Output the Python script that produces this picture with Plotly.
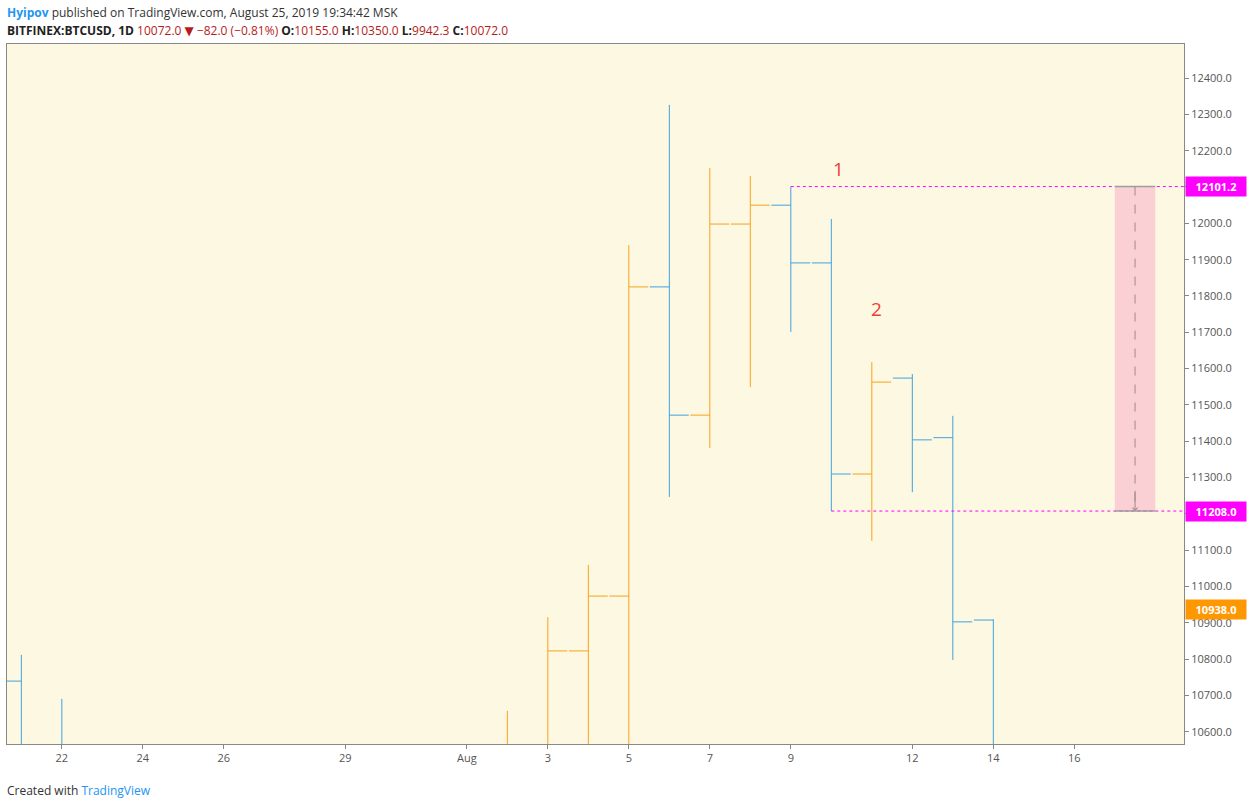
import plotly.graph_objects as go

dates = ["2019-07-21", "2019-07-22", "2019-08-02", "2019-08-03", "2019-08-04", "2019-08-05",
         "2019-08-06", "2019-08-07", "2019-08-08", "2019-08-09", "2019-08-10", "2019-08-11",
         "2019-08-12", "2019-08-13", "2019-08-14"]
opens = [10740, 10560, 10400, 10500, 10823, 10974, 11825, 11472, 11998, 12050, 11891, 11310, 11574, 11410, 10908]
highs = [10812, 10691, 10658, 10916, 11060, 11940, 12326, 12152, 12130, 12101.2, 12012, 11618, 11585, 11470, 10910]
lows = [10400, 10300, 10300, 10400, 10500, 10500, 11247, 11382, 11549, 11701, 11208, 11126, 11260, 10798, 10300]
closes = [10500, 10400, 10500, 10823, 10974, 11825, 11472, 11998, 12050, 11891, 11310, 11563, 11404, 10903, 10400]

tick_dates = ["2019-07-22", "2019-07-24", "2019-07-26", "2019-07-29", "2019-08-01", "2019-08-03",
              "2019-08-05", "2019-08-07", "2019-08-09", "2019-08-12", "2019-08-14", "2019-08-16"]
tick_text = ["22", "24", "26", "29", "Aug", "3", "5", "7", "9", "12", "14", "16"]

level_high = 12101.2
level_low = 11208.0
last_price = 10938.0

BLUE = "#3fa2e0"
ORANGE = "#f7a21b"
MAGENTA = "#ff00ff"

fig = go.Figure()
fig.add_trace(go.Ohlc(
    x=dates, open=opens, high=highs, low=lows, close=closes, tickwidth=0.48,
    increasing=dict(line=dict(color=ORANGE, width=1)),
    decreasing=dict(line=dict(color=BLUE, width=1)),
    hoverinfo="skip", showlegend=False,
))

# horizontal levels
fig.add_shape(type="line", x0="2019-08-09", x1="2019-08-18 18:00", y0=level_high, y1=level_high,
              line=dict(color=MAGENTA, width=1, dash="dot"))
fig.add_shape(type="line", x0="2019-08-10", x1="2019-08-18 18:00", y0=level_low, y1=level_low,
              line=dict(color=MAGENTA, width=1, dash="dot"))
# measurement box
fig.add_shape(type="rect", x0="2019-08-17", x1="2019-08-18", y0=level_low, y1=level_high,
              fillcolor="rgba(247,160,200,0.45)", line=dict(width=0), layer="below")
for y in (level_high, level_low):
    fig.add_shape(type="line", x0="2019-08-17", x1="2019-08-18", y0=y, y1=y,
                  line=dict(color="#9e9e9e", width=1.5))
fig.add_shape(type="line", x0="2019-08-17 12:00", x1="2019-08-17 12:00", y0=level_high, y1=level_low + 20,
              line=dict(color="#a08a8a", width=1, dash="dash"))
fig.add_annotation(x="2019-08-17 12:00", y=level_low, ax="2019-08-17 12:00", ay=level_low + 60,
                   xref="x", yref="y", axref="x", ayref="y", text="", showarrow=True,
                   arrowhead=4, arrowsize=1, arrowwidth=1, arrowcolor="#a08a8a")

fig.add_annotation(x="2019-08-10 04:00", y=12150, text="1", showarrow=False,
                   font=dict(color="#f23b3b", size=19))
fig.add_annotation(x="2019-08-11 03:00", y=11765, text="2", showarrow=False,
                   font=dict(color="#f23b3b", size=19))

# price labels on the axis
for val, col in ((level_high, MAGENTA), (level_low, MAGENTA), (last_price, "#ff9800")):
    fig.add_annotation(x=1, xref="paper", y=val, yref="y", xanchor="left", text=f"<b>{val:.1f}</b>",
                       showarrow=False, bgcolor=col, font=dict(color="white", size=11),
                       borderpad=2, xshift=1, width=56)

# header and footer
fig.add_annotation(x=0, y=1, xref="paper", yref="paper", xanchor="left", yanchor="middle", xshift=-2, yshift=32,
                   text="<span style='color:#2196f3'><b>Hyipov</b></span> published on TradingView.com, August 25, 2019 19:34:42 MSK",
                   showarrow=False, font=dict(size=12, color="#333"))
fig.add_annotation(x=0, y=1, xref="paper", yref="paper", xanchor="left", yanchor="middle", xshift=-2, yshift=14,
                   text="<b>BITFINEX:BTCUSD, 1D</b> <span style='color:#b71c1c'>10072.0</span> <span style='color:#b71c1c'>▼ −82.0 (−0.81%)</span> "
                        "<b>O:</b><span style='color:#b71c1c'>10155.0</span> <b>H:</b><span style='color:#b71c1c'>10350.0</span> "
                        "<b>L:</b><span style='color:#b71c1c'>9942.3</span> <b>C:</b><span style='color:#b71c1c'>10072.0</span>",
                   showarrow=False, font=dict(size=12, color="#222"))
fig.add_annotation(x=0, y=0, xref="paper", yref="paper", xanchor="left", yanchor="middle", xshift=-2, yshift=-46,
                   text="Created with <span style='color:#2196f3'>TradingView</span>",
                   showarrow=False, font=dict(size=12, color="#333"))

fig.update_layout(
    width=1251, height=808,
    margin=dict(l=7, r=67, t=44, b=64),
    paper_bgcolor="white", plot_bgcolor="#fdf8e1",
    font=dict(family="Open Sans, DejaVu Sans, sans-serif", size=11, color="#555"),
    xaxis=dict(range=["2019-07-20 15:30", "2019-08-18 17:00"], rangeslider=dict(visible=False),
               tickvals=tick_dates, ticktext=tick_text, showgrid=False, ticks="outside", ticklen=4,
               tickcolor="#888", showline=True, linecolor="#888", mirror=True, zeroline=False),
    yaxis=dict(range=[10566.8, 12493.6], side="right", dtick=100, tickformat=".1f", showgrid=False,
               ticks="outside", ticklen=4, tickcolor="#888", showline=True, linecolor="#888",
               mirror=True, zeroline=False),
)

fig.write_html("out.html", config={"displayModeBar": False},
               post_script="document.body.style.margin='0';")
